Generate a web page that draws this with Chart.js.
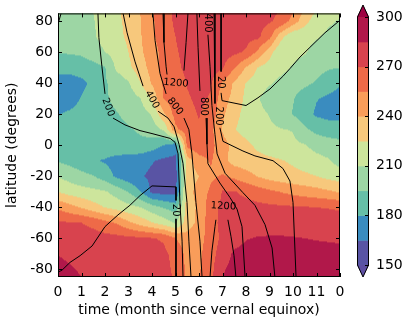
<!DOCTYPE html>
<html>
<head>
<meta charset="utf-8">
<script src="https://cdn.jsdelivr.net/npm/chart.js@4.4.0/dist/chart.umd.min.js"></script>
<style>
  html, body { margin: 0; padding: 0; background: #fff; }
  #wrap { width: 407px; height: 322px; }
</style>
</head>
<body>
<div id="wrap"><canvas id="myChart"></canvas></div>
<script>
// grid of the filled field: columns = months, rows = latitudes (north to south)
const months = [0, 0.5, 1, 1.5, 2, 2.5, 3, 3.5, 4, 4.5, 5, 5.5, 6, 6.5, 7, 7.5, 8, 8.5, 9, 9.5, 10, 10.5, 11, 11.5, 12];
const lats = [85, 80, 70, 60, 50, 40, 30, 20, 10, 0, -10, -20, -30, -40, -50, -60, -70, -80, -85];
const tempK = [
  [202.5, 204, 207, 210, 216, 222, 231, 240, 253.5, 264, 273, 277.5, 279, 279, 279, 279, 277.5, 276, 273, 268.5, 255, 235.5, 222, 216, 213],
  [202.5, 204, 206.3, 209.3, 215.3, 221.3, 229.5, 239.3, 252.8, 263.3, 272.3, 277.5, 279, 279, 279, 279, 277.5, 275.3, 271.5, 265.5, 249, 229.5, 217.5, 212.3, 208.5],
  [201, 202.5, 205.5, 208.5, 214.5, 220.5, 228, 238.5, 252, 262.5, 270, 276, 277.5, 277.5, 277.5, 276, 274.5, 273, 259.5, 229.5, 211.5, 214.5, 211.5, 207, 204],
  [195.8, 196.5, 198, 204, 210, 216, 225, 237, 249, 259.5, 268.5, 274.5, 277.5, 277.5, 276, 273, 268.5, 252, 231, 210, 214.5, 211.5, 204, 201, 199.5],
  [184.5, 184.5, 186, 189, 194.3, 213, 222, 232.5, 246, 261, 267, 273, 276, 276, 271.5, 256.5, 238.5, 224.3, 217.5, 214.5, 208.5, 202.5, 199.5, 196.5, 195],
  [174, 174, 177, 183, 193.5, 200.3, 208.5, 224.3, 241.5, 257.3, 262.5, 270.8, 274.5, 271.5, 253.5, 237.8, 224.3, 217.5, 211.5, 205.5, 201, 198, 193.5, 187.5, 181.5],
  [172.5, 174, 180.8, 186, 193.5, 198, 202.5, 209.3, 228, 255.8, 264, 268.5, 273, 268.5, 246, 235.5, 221.3, 211.5, 202.5, 200.3, 195.8, 187.5, 180.8, 177, 174],
  [179.3, 182.3, 185.3, 188.3, 191.3, 194.3, 198, 202.5, 211.5, 237, 261, 265.5, 270.8, 264, 243, 229.5, 220.5, 214.5, 209.3, 201, 194.3, 186, 177.8, 175.5, 176.3],
  [186, 186.8, 187.5, 189, 190.5, 192, 193.8, 196.5, 202.5, 211.5, 252, 262.5, 268.5, 259.5, 238.5, 225.8, 219, 216, 213, 210.8, 209.3, 198, 190.5, 187.5, 186],
  [188.3, 189, 189, 189.8, 190.5, 191.3, 192, 192, 187.5, 180, 172.5, 259.5, 265.5, 259.5, 246, 235.5, 228.8, 222, 217.5, 214.5, 213, 210.8, 205.5, 202.5, 200.3],
  [193.5, 190.5, 186, 181.5, 178.5, 174, 171.8, 170.3, 166, 162, 160.5, 232.5, 249, 256.5, 244.5, 234, 231, 229.5, 228, 225.8, 222.8, 217.5, 214.5, 211.5, 204],
  [209.3, 204, 199.5, 195.8, 187.5, 177, 171, 166.5, 162, 157.5, 157.5, 232.5, 240, 252, 256.5, 252, 246, 239.3, 234, 231, 229.5, 228, 225, 220.5, 217.5],
  [224.3, 219, 216, 213.8, 211.5, 204, 194.3, 180.8, 162, 159, 160.5, 234, 246, 258, 270.8, 270.8, 267, 262.5, 258, 254.3, 250.5, 247.5, 245.3, 242.3, 238.5],
  [252, 245.3, 238.5, 231, 224.3, 219, 214.5, 210, 201, 193.5, 187.5, 232.5, 243, 264, 273, 274.5, 274.5, 273.8, 273, 272.3, 271.5, 270.8, 270, 269.3, 268.5],
  [272.3, 270.8, 270, 266.3, 259.5, 253.5, 243, 234, 225.8, 217.5, 208.5, 232.5, 244.5, 264, 274.5, 276.8, 277.5, 278.3, 279, 279, 278.3, 277.5, 276.8, 276, 275.3],
  [278.3, 277.5, 276.8, 276, 275.3, 274.5, 273.8, 272.3, 270.8, 268.5, 255, 246, 249, 262.5, 273, 279, 284.3, 285.8, 286.2, 286.2, 285.8, 285, 284.3, 284, 283.5],
  [284.5, 282, 280.5, 279, 277.5, 276, 275.3, 274.5, 273.8, 273, 265.5, 250.5, 252, 264, 277.5, 287.3, 289.5, 290.3, 291, 291, 290.3, 289.5, 288.8, 288, 288],
  [289.5, 286.5, 283.5, 281.3, 279.8, 278.3, 277.5, 276.8, 276, 274.5, 267, 252, 253.5, 265.5, 283.5, 289.5, 291, 291.8, 291.8, 291.8, 291, 291, 290.3, 290.3, 290.3],
  [292.5, 288, 285, 283.5, 280.5, 279, 278.3, 277.5, 276.8, 275.3, 267.8, 252.8, 254.3, 266.3, 285, 290.3, 291.8, 292.5, 292.5, 292.5, 291.8, 291.8, 291, 291, 291]
];

const levels = [150, 165, 180, 195, 210, 225, 240, 255, 270, 285, 300];
const levelColors = ['#5954a4', '#3a8cbf', '#66bfa7', '#9dd6a4', '#cde59c', '#f7c87c', '#f99d5a', '#ee6a48', '#d8434e', '#b1184a'];
const underColor = '#5e4fa2';
const overColor = '#9e0142';
const colorbarTicks = [150, 180, 210, 240, 270, 300];

const monthTicks = [0, 1, 2, 3, 4, 5, 6, 7, 8, 9, 10, 11, 12];
const monthTickLabels = ['0', '1', '2', '3', '4', '5', '6', '7', '8', '9', '10', '11', '0'];
const latTicks = [-80, -60, -40, -20, 0, 20, 40, 60, 80];

// contour lines, [month, latitude]
const line20South = [[0, -81.9], [0.17, -80.6], [0.51, -75.6], [0.94, -71.25], [1.45, -65], [2.0, -52.5], [2.55, -45], [3.06, -38.75], [3.49, -32.5], [4.0, -26.25], [5.02, -26.9], [5.02, -35.6]];
const line20SouthLow = [[5.02, -47.5], [5.02, -85]];
const line20Corner = [[0, 78.1], [0.13, 85]];
const line200West = [[1.70, 85], [1.74, 69.4], [1.87, 50.6], [2.0, 33.1]];
const line200WestLow = [[2.34, 17.5], [2.85, 13.1], [3.49, 9.4], [4.0, 7.5], [4.77, 4.4], [4.98, 1.9], [5.11, -5.6], [5.19, -36.9], [5.28, -61.9], [5.32, -85]];
const line400West = [[2.77, 85], [2.94, 72.5], [3.28, 53.75], [3.62, 38.1]];
const line400WestLow = [[4.26, 21.9], [4.68, 17.5], [4.94, 11.9], [5.15, 0.6], [5.32, -11.9], [5.49, -36.9], [5.57, -61.9], [5.66, -85]];
const line800West = [[4.04, 85], [4.13, 67.5], [4.34, 46.25], [4.6, 33.1]];
const line800WestLow = [[5.36, 17.5], [5.57, 10], [5.70, -5.6], [5.87, -36.9], [6.04, -61.9], [6.13, -85]];
const line1200NorthA = [[4.47, 85], [4.51, 66.25], [4.6, 50.6], [4.64, 45.6]];
const line1200NorthB = [[5.36, 48.1], [5.45, 66.25], [5.53, 85]];
const line800East = [[5.91, 85], [5.96, 63.1], [6.04, 35]];
const line800EastLow = [[6.30, 17.5], [6.34, 0.6], [6.38, -11.9], [6.89, -24.4], [7.32, -33.75], [7.62, -41.25], [7.83, -52.5], [7.96, -85]];
const line400East = [[6.38, 71.25], [6.47, 50.6], [6.55, 25.6], [6.68, 6.9], [6.77, -5.6], [7.11, -18.1], [7.87, -30.6], [8.38, -38.75], [8.81, -51.25], [9.11, -66.25], [9.23, -85]];
const line200East = [[6.64, 85], [6.68, 26.9]];
const line200EastLow = [[6.89, 11.25], [7.02, 2.5], [7.87, -3.75], [8.38, -6.9], [9.15, -10], [9.57, -15], [9.87, -23.1], [10.0, -36.9], [10.13, -85]];
const line20North = [[6.94, 85], [6.94, 47.5]];
const line20NorthLow = [[6.94, 33.75], [6.98, 28.75], [8.0, 25.6], [8.51, 30.6], [9.02, 36.25], [9.57, 44.4], [9.87, 49.4], [10.3, 56.9], [10.72, 63.1], [11.36, 72.5], [12, 80.6]];
const line1200SouthA = [[6.47, -85], [6.55, -68.1], [6.68, -52.5], [6.72, -48.1]];
const line1200SouthB = [[7.23, -48.1], [7.36, -58.75], [7.49, -71.25], [7.57, -85]];

const contourLines = [line20South, line20SouthLow, line20Corner, line200West, line200WestLow, line400West, line400WestLow,
  line800West, line800WestLow, line1200NorthA, line1200NorthB, line800East, line800EastLow, line400East,
  line200East, line200EastLow, line20North, line20NorthLow, line1200SouthA, line1200SouthB];

// contour labels: text, month, latitude, angle
const contourLabels = [
  ['200', 2.13, 24.4, 70], ['400', 4.0, 29.4, 60], ['800', 4.98, 25, 52], ['1200', 5.02, 40, 5],
  ['800', 6.21, 25, 90], ['400', 6.38, 78.75, 90], ['20', 6.94, 40.6, 90], ['200', 6.85, 18.75, 90],
  ['20', 5.02, -41.9, 90], ['1200', 7.04, -39.4, 3]
];

const FONT = '"DejaVu Sans", sans-serif';

function hexRgb(h) {
  return [parseInt(h.slice(1, 3), 16), parseInt(h.slice(3, 5), 16), parseInt(h.slice(5, 7), 16)];
}

function sampleField(t, lat) {
  let i = 0;
  while (i < months.length - 2 && t > months[i + 1]) i++;
  let j = 0;
  while (j < lats.length - 2 && lat < lats[j + 1]) j++;
  const fx = Math.min(1, Math.max(0, (t - months[i]) / (months[i + 1] - months[i])));
  const fy = Math.min(1, Math.max(0, (lats[j] - lat) / (lats[j] - lats[j + 1])));
  const g = tempK;
  return (1 - fx) * (1 - fy) * g[j][i] + fx * (1 - fy) * g[j][i + 1] +
         (1 - fx) * fy * g[j + 1][i] + fx * fy * g[j + 1][i + 1];
}

function bandColor(v) {
  if (v < levels[0]) return underColor;
  if (v >= levels[levels.length - 1]) return overColor;
  let k = 0;
  while (k < levels.length - 2 && v >= levels[k + 1]) k++;
  return levelColors[k];
}

const contourFill = {
  id: 'contourFill',
  beforeDatasetsDraw(chart) {
    const { ctx, chartArea: a, scales: { x, y } } = chart;
    const w = Math.round(a.right - a.left), h = Math.round(a.bottom - a.top);
    const off = document.createElement('canvas');
    off.width = w; off.height = h;
    const octx = off.getContext('2d');
    const img = octx.createImageData(w, h);
    const cache = {};
    for (let py = 0; py < h; py++) {
      const lat = y.getValueForPixel(a.top + py + 0.5);
      for (let px = 0; px < w; px++) {
        const t = x.getValueForPixel(a.left + px + 0.5);
        const c = bandColor(sampleField(t, lat));
        const rgb = cache[c] || (cache[c] = hexRgb(c));
        const o = (py * w + px) * 4;
        img.data[o] = rgb[0]; img.data[o + 1] = rgb[1]; img.data[o + 2] = rgb[2]; img.data[o + 3] = 255;
      }
    }
    octx.putImageData(img, 0, 0);
    ctx.drawImage(off, a.left, a.top);
  }
};

const frameAndLabels = {
  id: 'frameAndLabels',
  afterDatasetsDraw(chart) {
    const { ctx, chartArea: a, scales: { x, y } } = chart;
    ctx.save();
    // contour labels
    ctx.fillStyle = '#000';
    ctx.font = '10px ' + FONT;
    ctx.textAlign = 'center';
    ctx.textBaseline = 'middle';
    contourLabels.forEach(function (l) {
      ctx.save();
      ctx.translate(x.getPixelForValue(l[1]), y.getPixelForValue(l[2]));
      ctx.rotate(l[3] * Math.PI / 180);
      ctx.fillText(l[0], 0, 0);
      ctx.restore();
    });
    // frame
    ctx.strokeStyle = '#000';
    ctx.lineWidth = 1;
    ctx.strokeRect(a.left + 0.5, a.top + 0.5, a.right - a.left - 1, a.bottom - a.top - 1);
    // inward ticks
    ctx.beginPath();
    monthTicks.forEach(function (m) {
      const px = Math.round(x.getPixelForValue(m)) + 0.5;
      ctx.moveTo(px, a.bottom); ctx.lineTo(px, a.bottom - 4);
      ctx.moveTo(px, a.top); ctx.lineTo(px, a.top + 4);
    });
    latTicks.forEach(function (v) {
      const py = Math.round(y.getPixelForValue(v)) + 0.5;
      ctx.moveTo(a.left, py); ctx.lineTo(a.left + 4, py);
      ctx.moveTo(a.right, py); ctx.lineTo(a.right - 4, py);
    });
    ctx.stroke();
    ctx.restore();
  },
  afterDraw(chart) {
    // colorbar
    const { ctx } = chart;
    const x0 = 357, x1 = 369, top = 17, bot = 265, tri = 12;
    const lo = levels[0], hi = levels[levels.length - 1];
    const py = v => bot - (v - lo) / (hi - lo) * (bot - top);
    ctx.save();
    for (let k = 0; k < levelColors.length; k++) {
      ctx.fillStyle = levelColors[k];
      const yA = py(levels[k + 1]), yB = py(levels[k]);
      ctx.fillRect(x0, yA, x1 - x0, yB - yA + 0.5);
    }
    ctx.fillStyle = overColor;
    ctx.beginPath(); ctx.moveTo(x0, top); ctx.lineTo((x0 + x1) / 2, top - tri); ctx.lineTo(x1, top); ctx.closePath(); ctx.fill();
    ctx.fillStyle = underColor;
    ctx.beginPath(); ctx.moveTo(x0, bot); ctx.lineTo((x0 + x1) / 2, bot + tri); ctx.lineTo(x1, bot); ctx.closePath(); ctx.fill();
    ctx.strokeStyle = '#000';
    ctx.lineWidth = 1;
    ctx.beginPath();
    ctx.moveTo(x0 + 0.5, top); ctx.lineTo((x0 + x1) / 2, top - tri); ctx.lineTo(x1 - 0.5, top);
    ctx.lineTo(x1 - 0.5, bot); ctx.lineTo((x0 + x1) / 2, bot + tri); ctx.lineTo(x0 + 0.5, bot); ctx.closePath();
    ctx.stroke();
    ctx.fillStyle = '#000';
    ctx.font = '14px ' + FONT;
    ctx.textAlign = 'left';
    ctx.textBaseline = 'middle';
    ctx.beginPath();
    colorbarTicks.forEach(function (v) {
      const yy = Math.round(py(v)) + 0.5;
      ctx.moveTo(x1 - 4, yy); ctx.lineTo(x1, yy);
      ctx.fillText(String(v), 376, py(v));
    });
    ctx.stroke();
    ctx.restore();
  }
};

document.addEventListener("DOMContentLoaded", function () {
  const ctx = document.getElementById('myChart');
  if (!ctx) return;

  const datasets = contourLines.map(function (pts) {
    return {
      data: pts.map(p => ({ x: p[0], y: p[1] })),
      showLine: true,
      borderColor: '#000',
      borderWidth: 1,
      pointRadius: 0,
      fill: false,
      tension: 0
    };
  });

  new Chart(ctx, {
    type: 'scatter',
    data: { datasets: datasets },
    options: {
      responsive: true,
      maintainAspectRatio: false,
      animation: false,
      layout: { padding: { top: 5, right: 67, bottom: 0, left: 0 } },
      plugins: { legend: { display: false }, tooltip: { enabled: false } },
      scales: {
        x: {
          type: 'linear', min: 0, max: 12,
          grid: { display: false, drawTicks: false }, border: { display: false },
          afterBuildTicks: s => { s.ticks = monthTicks.map(v => ({ value: v })); },
          afterFit: s => { s.height = 45; },
          ticks: {
            color: '#000', padding: 7, maxRotation: 0, autoSkip: false,
            font: { family: FONT, size: 14 },
            callback: (v, i) => monthTickLabels[i]
          },
          title: { display: true, text: 'time (month since vernal equinox)', color: '#000',
                   font: { family: FONT, size: 14 }, padding: { top: 0, bottom: 3 } }
        },
        y: {
          type: 'linear', min: -85, max: 85,
          grid: { display: false, drawTicks: false }, border: { display: false },
          afterBuildTicks: s => { s.ticks = latTicks.map(v => ({ value: v })); },
          afterFit: s => { s.width = 58; },
          ticks: { color: '#000', padding: 5, font: { family: FONT, size: 14 } },
          title: { display: true, text: 'latitude (degrees)', color: '#000',
                   font: { family: FONT, size: 14 }, padding: { top: 4, bottom: 0 } }
        }
      }
    },
    plugins: [contourFill, frameAndLabels]
  });
});
</script>
</body>
</html>
